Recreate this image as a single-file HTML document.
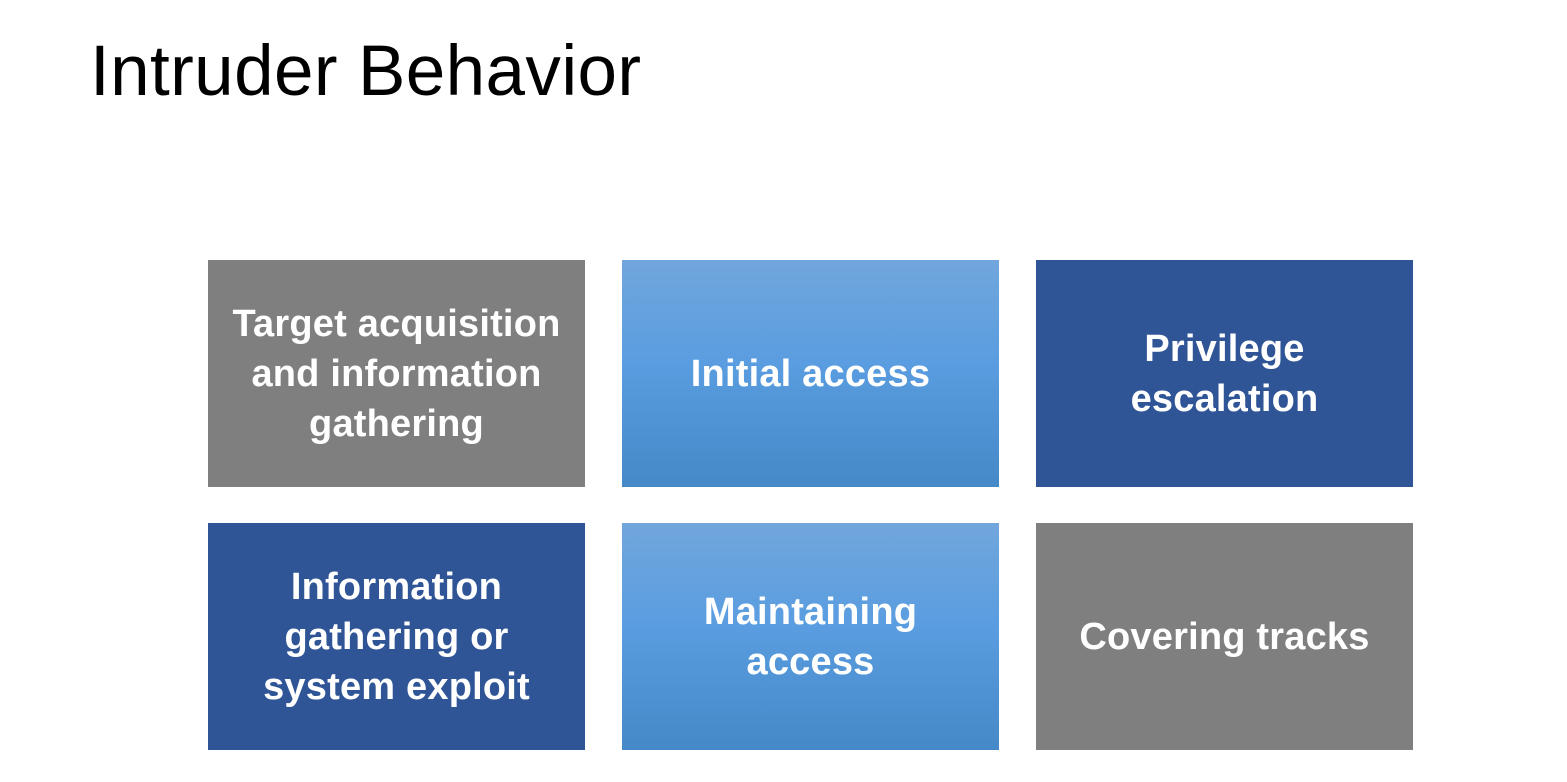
<!DOCTYPE html>
<html><head><meta charset="utf-8"><style>
html,body{margin:0;padding:0;background:#fff;width:1567px;height:782px;overflow:hidden;position:relative;font-family:"Liberation Sans",sans-serif}
h1{position:absolute;left:90px;top:32px;margin:0;font-weight:normal;font-size:71px;line-height:80px;color:#000;letter-spacing:0.4px}
.b{position:absolute;width:377px;height:227px;display:flex;align-items:center;justify-content:center;text-align:center;color:#fff;font-weight:bold;font-size:38px;line-height:50px;letter-spacing:0.2px}
.g{background:#7f7f7f}
.d{background:#2f5597}
.l{background:linear-gradient(#71a6dc,#5a9de0 45%,#4589c8)}
</style></head><body>
<h1>Intruder Behavior</h1>
<div class="b g" style="left:208px;top:260px">Target acquisition<br>and information<br>gathering</div>
<div class="b l" style="left:622px;top:260px">Initial access</div>
<div class="b d" style="left:1036px;top:260px">Privilege<br>escalation</div>
<div class="b d" style="left:208px;top:523px">Information<br>gathering or<br>system exploit</div>
<div class="b l" style="left:622px;top:523px">Maintaining<br>access</div>
<div class="b g" style="left:1036px;top:523px">Covering tracks</div>
</body></html>
